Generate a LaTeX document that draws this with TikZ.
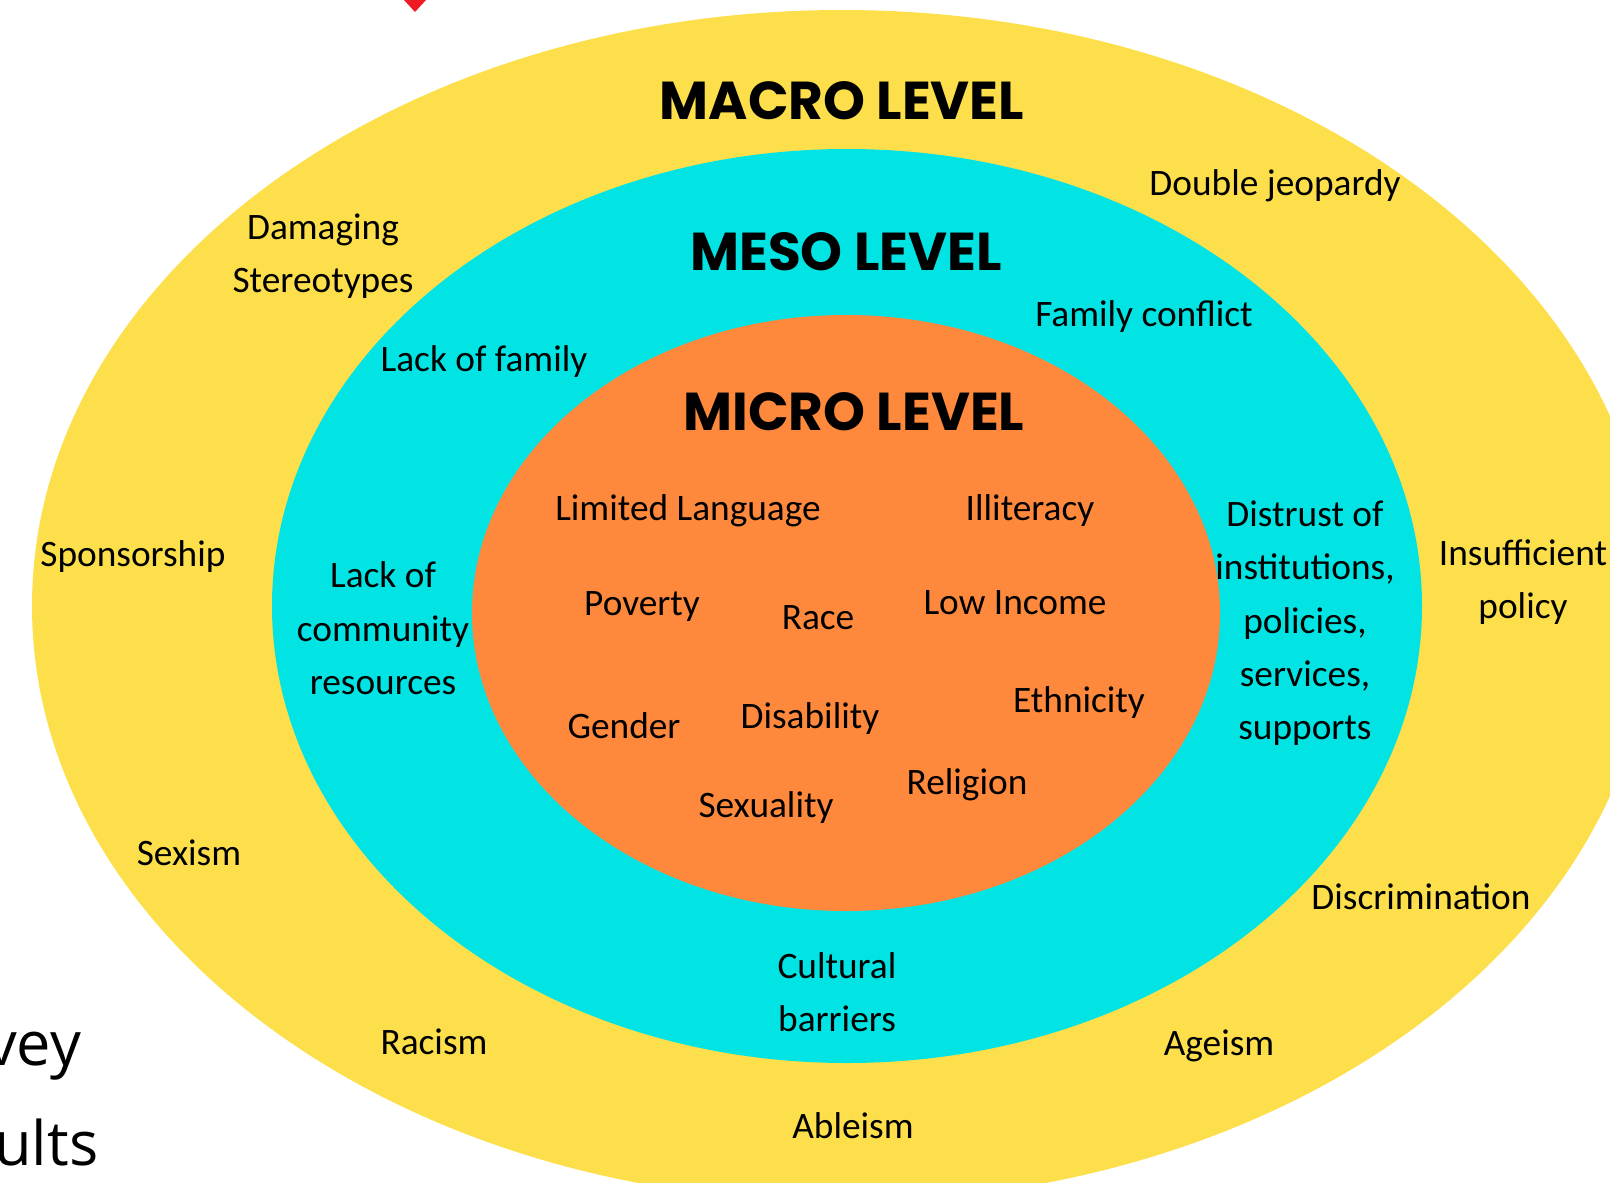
\documentclass[tikz,border=0pt]{standalone}
\usepackage{fontspec}
\setmainfont{Carlito}
\newfontfamily\headfont{Poppins}
\newfontfamily\slidefont{Open Sans}
\usepackage{tikz}

\definecolor{macrocol}{RGB}{253,223,75}
\definecolor{mesocol}{RGB}{2,228,228}
\definecolor{microcol}{RGB}{254,137,60}
\definecolor{markcol}{RGB}{237,28,36}

\tikzset{
  lvl/.style={anchor=center,inner sep=0.75pt,font=\headfont\bfseries\fontsize{40}{44}\selectfont},
  item/.style={anchor=center,inner sep=0.75pt,align=center,yshift=-2.5pt,font=\fontsize{28}{40}\selectfont},
  frag/.style={anchor=west,inner sep=0pt,font=\slidefont\fontsize{46}{50}\selectfont}
}

\begin{document}
\begin{tikzpicture}[x=0.75pt,y=0.75pt,yscale=-1,xscale=1]
	\useasboundingbox (0,0) rectangle (1610,1182);
	\clip (0,0) rectangle (1610,1182);

	%Shape: Ellipse [macro]
	\fill [macrocol] (842,606) ellipse [x radius=810, y radius=596];
	%Shape: Ellipse [meso]
	\fill [mesocol] (847,606) ellipse [x radius=575, y radius=457];
	%Shape: Ellipse [micro]
	\fill [microcol] (846,613) ellipse [x radius=374, y radius=298];
	%Shape: Triangle [mark]
	\fill [markcol] (404,0) -- (426,0) -- (415,12) -- cycle ;

	% Level titles
	\draw (842,101) node [lvl] (macro) {MACRO LEVEL};
	\draw (846,252) node [lvl] (meso) {MESO LEVEL};
	\draw (854,412) node [lvl] (micro) {MICRO LEVEL};

	% Text Node
	\draw (1275,182) node [item] (jeopardy) {Double jeopardy};
	% Text Node
	\draw (323,253) node [item] (stereo) {Damaging\\Stereotypes};
	% Text Node
	\draw (133,553) node [item] (sponsor) {Sponsorship};
	% Text Node
	\draw (1523,579) node [item] (policy) {Insufficient\\policy};
	% Text Node
	\draw (189,849) node [item] (sexism) {Sexism};
	% Text Node
	\draw (1421,893) node [item] (discrim) {Discrimination};
	% Text Node
	\draw (434,1038) node [item] (racism) {Racism};
	% Text Node
	\draw (1219,1043) node [item] (ageism) {Ageism};
	% Text Node
	\draw (853,1122) node [item] (ableism) {Ableism};

	% Text Node
	\draw (484,358) node [item] (nofamily) {Lack of family};
	% Text Node
	\draw (1144,313) node [item] (conflict) {Family conflict};
	% Text Node
	\draw (383,625) node [item] (community) {Lack of\\community\\resources};
	% Text Node
	\draw (1305,620) node [item] (distrust) {Distrust of\\institutions,\\policies,\\services,\\supports};
	% Text Node
	\draw (837,989) node [item] (cultural) {Cultural\\barriers};

	% Text Node
	\draw (688,507) node [item] (language) {Limited Language};
	% Text Node
	\draw (1030,507) node [item] (illiteracy) {Illiteracy};
	% Text Node
	\draw (642,603) node [item] (poverty) {Poverty};
	% Text Node
	\draw (818,614) node [item] (race) {Race};
	% Text Node
	\draw (1015,599) node [item] (income) {Low Income};
	% Text Node
	\draw (624,722) node [item] (gender) {Gender};
	% Text Node
	\draw (810,715) node [item] (disability) {Disability};
	% Text Node
	\draw (1079,699) node [item] (ethnicity) {Ethnicity};
	% Text Node
	\draw (766,804) node [item] (sexuality) {Sexuality};
	% Text Node
	\draw (967,781) node [item] (religion) {Religion};

	% Slide fragments
	\draw (-14,1056) node [frag] (fragA) {vey};
	\draw (-6,1142) node [frag] (fragB) {ults};
\end{tikzpicture}
\end{document}
